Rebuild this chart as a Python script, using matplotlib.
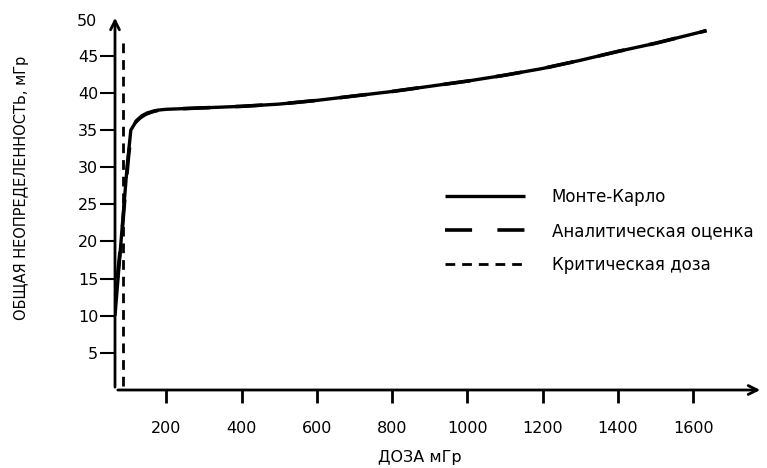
import numpy as np
import matplotlib.pyplot as plt

plt.rcParams['font.family'] = ['DejaVu Sans']

# Монте-Карло
mc_x = np.array([64, 68, 72, 80, 88, 96, 106, 118, 130, 145, 160, 180, 200, 250, 300, 400, 500, 600, 700, 800, 900, 1000, 1100, 1200, 1300, 1400, 1500, 1635])
mc_y = np.array([10, 12.5, 15, 20, 25, 30, 35, 36.0, 36.6, 37.1, 37.4, 37.7, 37.8, 37.9, 38.0, 38.2, 38.5, 39.0, 39.6, 40.2, 40.9, 41.6, 42.4, 43.3, 44.4, 45.6, 46.7, 48.4])

# Аналитическая оценка
an_x = np.array([70, 76, 84, 92, 100, 108, 120, 135, 150, 170, 200, 250, 300, 400, 500, 600, 700, 800, 900, 1000, 1100, 1200, 1300, 1400, 1500, 1635])
an_y = np.array([15, 18, 22, 27, 31.5, 35, 36.2, 36.9, 37.3, 37.6, 37.8, 37.9, 38.0, 38.2, 38.5, 39.0, 39.6, 40.2, 40.9, 41.6, 42.4, 43.3, 44.4, 45.6, 46.7, 48.4])

# Критическая доза
crit_x = 85
crit_top = 47.3

xticks = [200, 400, 600, 800, 1000, 1200, 1400, 1600]
yticks = [5, 10, 15, 20, 25, 30, 35, 40, 45]

fig = plt.figure(figsize=(7.67, 4.68), dpi=100)
ax = fig.add_axes([115/767, 78/468, 648/767, 375/468])

ax.plot(mc_x, mc_y, color='black', lw=2.4, solid_capstyle='butt', label='Монте-Карло')
ax.plot(an_x, an_y, color='black', lw=2.6, dashes=(7.5, 7.0), label='Аналитическая оценка')
ax.plot([crit_x, crit_x], [0.5, crit_top], color='black', lw=2, dashes=(3.5, 2.5), label='Критическая доза')

ax.set_xlim(64, 1785)
ax.set_ylim(0, 50.5)

for s in ax.spines.values():
    s.set_visible(False)
ax.annotate('', xy=(1, 0), xytext=(0, 0), xycoords='axes fraction',
            arrowprops=dict(arrowstyle='->', lw=2, color='black', mutation_scale=16))
ax.annotate('', xy=(0, 1), xytext=(0, 0), xycoords='axes fraction',
            arrowprops=dict(arrowstyle='->', lw=2, color='black', mutation_scale=16))

ax.set_xticks(xticks)
ax.set_yticks(yticks)
ax.tick_params(axis='x', direction='out', length=9, width=2, pad=13.5, labelsize=11.5)
ax.tick_params(axis='y', direction='out', length=11, width=1.5, pad=1, labelsize=11.5)
ax.text(-0.028, 49.6, '50', transform=ax.get_yaxis_transform(), ha='right', va='center', fontsize=11.5)

ax.set_xlabel('ДОЗА мГр', fontsize=11.5)
ax.xaxis.set_label_coords(0.47, -0.16)
ax.set_ylabel('ОБЩАЯ НЕОПРЕДЕЛЕННОСТЬ, мГр', fontsize=10.5)
ax.yaxis.set_label_coords(-0.133, 0.54)

ax.legend(loc='upper left', bbox_to_anchor=(430/767, 1 - 173/468), bbox_transform=fig.transFigure,
          frameon=False, fontsize=12, handlelength=4.8, handletextpad=1.6, labelspacing=0.95,
          borderpad=0.4)

fig.savefig('out.png', dpi=100)
